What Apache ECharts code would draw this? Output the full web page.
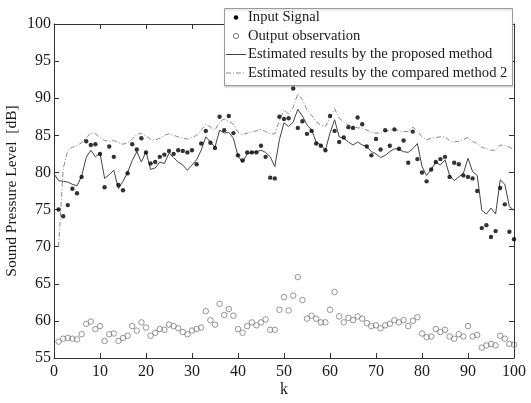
<!DOCTYPE html>
<html>
<head>
<meta charset="utf-8">
<script src="https://cdn.jsdelivr.net/npm/echarts@6/dist/echarts.min.js"></script>
<style>
  html, body { margin: 0; padding: 0; background: #fff; }
  #chart { width: 531px; height: 403px; }
</style>
</head>
<body>
<div id="chart"></div>
<script>
// Sample index k where the measured series begin (k = 1..100)
const measuredStart = 1;
// Sample index k where the proposed estimate begins (k = 0..100)
const proposedStart = 0;
// Sample index k where the compared estimate begins (k = 1..100)
const comparedStart = 1;

// Input Signal, dB, k = 1..100
const inputSignal = [
  75.0, 74.1, 75.6, 77.8, 77.2, 79.4, 84.2, 83.7, 83.8, 82.5,
  78.0, 83.5, 82.1, 78.3, 77.6, 79.9, 83.8, 83.1, 84.6, 82.7,
  81.2, 81.4, 82.1, 82.4, 82.9, 82.5, 83.0, 82.9, 82.7, 83.0,
  81.1, 83.9, 85.6, 84.0, 83.3, 87.5, 85.7, 87.6, 85.3, 82.3,
  81.6, 82.7, 82.7, 82.7, 83.6, 82.1, 79.3, 79.2, 87.5, 87.2,
  87.3, 91.3, 86.0, 86.9, 85.2, 85.6, 83.9, 83.6, 83.0, 87.6,
  85.6, 84.1, 84.7, 86.1, 86.0, 87.4, 86.5, 83.5, 82.3, 84.5,
  83.1, 85.7, 83.6, 85.8, 83.2, 84.3, 81.3, 85.5, 81.8, 80.0,
  78.8, 80.4, 81.4, 81.8, 82.1, 79.4, 81.3, 81.1, 79.6, 79.4,
  79.2, 77.5, 72.5, 72.9, 71.3, 72.1, 77.9, 75.7, 72.0, 71.0
];

// Output observation, dB, k = 1..100
const outputObservation = [
  57.2, 57.6, 57.7, 57.6, 57.5, 58.2, 59.6, 59.9, 58.9, 59.3,
  57.3, 58.2, 58.3, 57.3, 57.7, 58.0, 59.3, 58.7, 59.8, 59.1,
  58.0, 58.4, 58.9, 58.8, 59.5, 59.3, 59.0, 58.5, 58.2, 58.7,
  58.9, 59.1, 61.3, 60.1, 59.5, 62.3, 60.8, 61.6, 60.7, 58.9,
  58.4, 59.3, 59.8, 59.4, 59.8, 60.2, 58.8, 58.8, 61.5, 63.2,
  61.4, 63.4, 65.9, 62.8, 60.3, 60.7, 60.3, 59.8, 59.8, 61.5,
  63.9, 60.6, 59.8, 60.4, 60.1, 60.6, 60.3, 59.7, 59.3, 59.4,
  59.0, 59.4, 59.6, 60.1, 59.8, 60.1, 59.3, 60.0, 60.5, 58.3,
  57.8, 57.9, 58.9, 58.5, 58.8, 57.9, 57.6, 58.2, 57.9, 59.3,
  57.9, 58.1, 56.4, 56.7, 56.9, 56.7, 58.0, 57.6, 56.9, 56.8
];

// Estimated results by the proposed method, dB, k = 0..100
const proposedEstimate = [
  79.8,
  78.9, 78.8, 78.7, 78.4, 78.2, 79.5, 82.0, 83.0, 82.1, 82.6,
  79.2, 79.7, 80.3, 77.8, 78.8, 80.0, 81.6, 82.8, 81.4, 82.8,
  80.4, 80.6, 81.4, 81.2, 82.6, 82.0, 81.4, 81.0, 80.3, 81.0,
  81.7, 83.0, 84.8, 84.1, 83.4, 85.7, 85.3, 85.4, 84.6, 82.2,
  81.4, 82.5, 82.7, 82.8, 83.0, 82.7, 82.1, 80.8, 84.4, 86.7,
  86.2, 86.8, 88.5, 87.6, 86.4, 85.7, 84.1, 83.7, 83.0, 85.3,
  87.1, 84.8, 84.6, 84.1, 83.7, 84.1, 83.7, 83.5, 82.8, 82.5,
  82.0, 82.3, 82.8, 83.2, 83.1, 82.8, 82.7, 83.2, 83.9, 80.8,
  79.6, 80.4, 81.4, 81.0, 81.7, 79.6, 78.9, 79.4, 79.9, 81.9,
  80.1, 79.6, 74.9, 74.4, 75.2, 74.4, 79.0, 78.4, 75.4, 74.9
];

// Estimated results by the compared method 2, dB, k = 1..100
const comparedEstimate = [
  70.0, 80.5, 83.0, 83.4, 83.6, 84.0, 84.7, 85.3, 85.2, 84.7,
  84.3, 84.2, 84.3, 84.0, 83.8, 84.0, 84.5, 85.1, 85.3, 84.9,
  84.5, 84.4, 84.6, 85.0, 85.2, 85.0, 84.8, 84.6, 84.5, 84.7,
  85.0, 85.7, 86.5, 86.1, 85.7, 86.8, 87.2, 86.9, 86.5, 85.4,
  85.1, 85.3, 85.5, 85.6, 85.8, 85.5, 85.2, 85.2, 87.0, 88.4,
  87.9, 88.8, 90.6, 89.8, 88.4, 87.7, 86.8, 86.4, 86.2, 87.3,
  88.6, 87.3, 86.8, 86.4, 86.2, 86.0, 86.0, 85.7, 85.4, 85.3,
  85.3, 85.5, 85.7, 85.8, 85.6, 85.5, 85.5, 86.1, 85.6, 84.8,
  84.4, 84.6, 84.7, 84.8, 84.8, 84.3, 84.1, 84.2, 84.5, 84.7,
  84.2, 83.9, 83.4, 83.2, 83.0, 83.0, 83.7, 83.6, 83.4, 83.1
];

// Axis ranges and tick steps
const kRange = [0, 100];
const kStep = 10;
const splRange = [55, 100];
const splStep = 5;

const seriesNames = [
  'Input Signal',
  'Output observation',
  'Estimated results by the proposed method',
  'Estimated results by the compared method 2'
];

// Attach sample indices to a value list
function withIndex(start, values) {
  return values.map((v, i) => [start + i, v]);
}

const serif = "'Liberation Serif', 'Times New Roman', serif";
const frameColor = '#333';
const textColor = '#1a1a1a';

function frameAxis(extra) {
  return Object.assign({
    type: 'value',
    axisLine: { show: true, onZero: false, lineStyle: { color: frameColor, width: 1 } },
    axisTick: { show: true, inside: true, length: 5, lineStyle: { color: frameColor, width: 1 } },
    splitLine: { show: false },
    axisLabel: { show: false }
  }, extra);
}

const labelStyle = { fontFamily: serif, fontSize: 16, color: textColor };

// Legend box drawn in the upper right corner
const legendLeft = 224, legendTop = 8, legendWidth = 288, legendHeight = 77;
const rowY = [17.5, 36, 54.5, 73];
const iconX = 236, textX = 248;

const legendGraphics = [
  {
    type: 'rect', z: 100,
    shape: { x: legendLeft + 0.5, y: legendTop + 0.5, width: legendWidth, height: legendHeight },
    style: { fill: '#fff', stroke: '#9a9a9a', lineWidth: 1, shadowColor: 'rgba(0,0,0,0.18)', shadowOffsetY: 1.5, shadowBlur: 1 }
  },
  { type: 'circle', z: 101, shape: { cx: iconX, cy: rowY[0], r: 2.2 }, style: { fill: '#000' } },
  { type: 'circle', z: 101, shape: { cx: iconX, cy: rowY[1], r: 2.6 }, style: { fill: '#fff', stroke: '#7a7a7a', lineWidth: 1 } },
  { type: 'line', z: 101, shape: { x1: 226, y1: rowY[2], x2: 246, y2: rowY[2] }, style: { stroke: '#444', lineWidth: 1 } },
  { type: 'line', z: 101, shape: { x1: 226, y1: rowY[3], x2: 246, y2: rowY[3] }, style: { stroke: '#8a8a8a', lineWidth: 1, lineDash: [5, 2, 1, 2] } }
].concat(seriesNames.map((name, i) => ({
  type: 'text', z: 101, x: textX, y: rowY[i],
  style: { text: name, fontFamily: serif, fontSize: 14.6, fill: textColor, align: 'left', verticalAlign: 'middle' }
})));

const option = {
  backgroundColor: '#fff',
  animation: false,
  grid: { left: 54, right: 17, top: 24, bottom: 45, containLabel: false, outerBoundsMode: 'none' },
  xAxis: [
    frameAxis({
      position: 'bottom', min: kRange[0], max: kRange[1], interval: kStep,
      axisLabel: Object.assign({ show: true, margin: 6 }, labelStyle),
      name: 'k', nameLocation: 'middle', nameGap: 24, nameMoveOverlap: false,
      nameTextStyle: { fontFamily: serif, fontSize: 16, color: textColor }
    }),
    frameAxis({ position: 'top', min: kRange[0], max: kRange[1], interval: kStep })
  ],
  yAxis: [
    frameAxis({
      position: 'left', min: splRange[0], max: splRange[1], interval: splStep,
      axisLabel: Object.assign({ show: true, margin: 3 }, labelStyle),
      name: 'Sound Pressure Level  [dB]', nameLocation: 'middle', nameGap: 34, nameRotate: 90,
      nameMoveOverlap: false,
      nameTextStyle: { fontFamily: serif, fontSize: 15.5, color: textColor }
    }),
    frameAxis({ position: 'right', min: splRange[0], max: splRange[1], interval: splStep })
  ],
  series: [
    {
      name: seriesNames[3], type: 'line', xAxisIndex: 0, yAxisIndex: 0,
      data: withIndex(comparedStart, comparedEstimate),
      symbol: 'none', z: 2,
      lineStyle: { color: '#8a8a8a', width: 1, type: [5, 2, 1, 2] }
    },
    {
      name: seriesNames[2], type: 'line', xAxisIndex: 0, yAxisIndex: 0,
      data: withIndex(proposedStart, proposedEstimate),
      symbol: 'none', z: 3,
      lineStyle: { color: '#444', width: 1 }
    },
    {
      name: seriesNames[1], type: 'scatter', xAxisIndex: 0, yAxisIndex: 0,
      data: withIndex(measuredStart, outputObservation),
      symbol: 'circle', symbolSize: 5.5, z: 4,
      itemStyle: { color: 'rgba(255,255,255,0)', borderColor: '#7a7a7a', borderWidth: 1 }
    },
    {
      name: seriesNames[0], type: 'scatter', xAxisIndex: 0, yAxisIndex: 0,
      data: withIndex(measuredStart, inputSignal),
      symbol: 'circle', symbolSize: 4.4, z: 5,
      itemStyle: { color: '#000' }
    }
  ],
  graphic: legendGraphics
};

const chart = echarts.init(document.getElementById('chart'), null, { renderer: 'canvas' });
chart.setOption(option);
</script>
</body>
</html>
